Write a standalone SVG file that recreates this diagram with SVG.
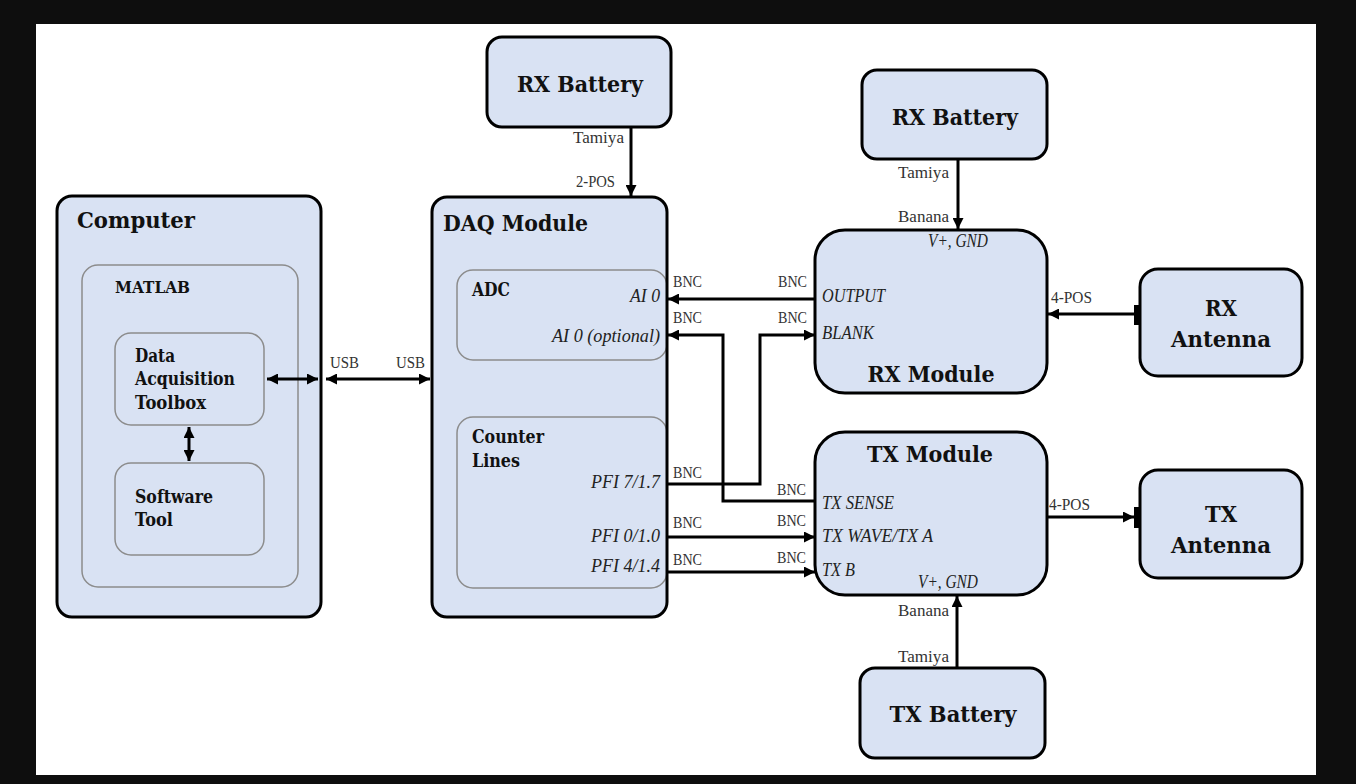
<svg xmlns="http://www.w3.org/2000/svg" width="1356" height="784" viewBox="0 0 1356 784">
  <defs>
    <style>
      .box { fill: #d9e2f3; stroke: #000; stroke-width: 3; }
      .boxfill { fill: #d9e2f3; stroke: none; }
      .boxedge { fill: none; stroke: #000; stroke-width: 3; }
      .inner { fill: #d9e2f3; stroke: #8c8c8c; stroke-width: 1.5; }
      .wire { fill: none; stroke: #000; stroke-width: 3; }
      .title { font-family: "DejaVu Serif", "Liberation Serif", serif; font-weight: bold; fill: #111; }
      .port { font-family: "Liberation Serif", "DejaVu Serif", serif; font-style: italic; font-size: 18px; fill: #222; }
      .lbl { font-family: "Liberation Serif", "DejaVu Serif", serif; font-size: 16px; fill: #333; }
    </style>
    <marker id="arrow" viewBox="0 0 10 10" refX="10" refY="5" markerWidth="11" markerHeight="11" markerUnits="userSpaceOnUse" orient="auto-start-reverse">
      <path d="M0,0 L10,5 L0,10 z" fill="#000"/>
    </marker>
  </defs>

  <!-- page frame -->
  <rect x="0" y="0" width="1356" height="784" fill="#0e0e0e"/>
  <rect x="36" y="24" width="1280" height="751" fill="#ffffff"/>

  <!-- Computer -->
  <g id="computer">
    <rect class="box" x="57" y="196" width="264" height="421" rx="15"/>
    <text class="title" x="77" y="228" font-size="22" textLength="118" lengthAdjust="spacingAndGlyphs">Computer</text>
    <g id="matlab">
      <rect class="inner" x="82" y="265" width="216" height="322" rx="16"/>
      <text class="title" x="115" y="293" font-size="17" textLength="75" lengthAdjust="spacingAndGlyphs">MATLAB</text>
    </g>
    <g id="daq-toolbox">
      <rect class="inner" x="115" y="333" width="149" height="92" rx="16"/>
      <text class="title" x="135" y="362" font-size="18" textLength="40" lengthAdjust="spacingAndGlyphs">Data</text>
      <text class="title" x="135" y="385" font-size="18" textLength="100" lengthAdjust="spacingAndGlyphs">Acquisition</text>
      <text class="title" x="135" y="409" font-size="18" textLength="71" lengthAdjust="spacingAndGlyphs">Toolbox</text>
    </g>
    <g id="software-tool">
      <rect class="inner" x="115" y="463" width="149" height="92" rx="16"/>
      <text class="title" x="135" y="503" font-size="18" textLength="78" lengthAdjust="spacingAndGlyphs">Software</text>
      <text class="title" x="135" y="526" font-size="18" textLength="38" lengthAdjust="spacingAndGlyphs">Tool</text>
    </g>
  </g>

  <!-- DAQ Module -->
  <g id="daq-module">
    <rect class="boxfill" x="432" y="197" width="235" height="420" rx="15"/>
    <g id="adc">
      <rect class="inner" x="457" y="270" width="210" height="90" rx="16"/>
      <text class="title" x="472" y="296" font-size="18" textLength="38" lengthAdjust="spacingAndGlyphs">ADC</text>
      <text class="port" x="660" y="302" text-anchor="end" textLength="30" lengthAdjust="spacingAndGlyphs">AI 0</text>
      <text class="port" x="660" y="342" text-anchor="end" textLength="108" lengthAdjust="spacingAndGlyphs">AI 0 (optional)</text>
    </g>
    <g id="counter-lines">
      <rect class="inner" x="457" y="417" width="210" height="171" rx="16"/>
      <text class="title" x="472" y="443" font-size="18" textLength="72" lengthAdjust="spacingAndGlyphs">Counter</text>
      <text class="title" x="472" y="467" font-size="18" textLength="48" lengthAdjust="spacingAndGlyphs">Lines</text>
      <text class="port" x="660" y="488" text-anchor="end" textLength="69" lengthAdjust="spacingAndGlyphs">PFI 7/1.7</text>
      <text class="port" x="660" y="542" text-anchor="end" textLength="69" lengthAdjust="spacingAndGlyphs">PFI 0/1.0</text>
      <text class="port" x="660" y="572" text-anchor="end" textLength="69" lengthAdjust="spacingAndGlyphs">PFI 4/1.4</text>
    </g>
    <rect class="boxedge" x="432" y="197" width="235" height="420" rx="15"/>
    <text class="title" x="443" y="231" font-size="22" textLength="145" lengthAdjust="spacingAndGlyphs">DAQ Module</text>
  </g>

  <!-- Batteries -->
  <g id="rx-battery-daq">
    <rect class="box" x="487" y="37" width="184" height="90" rx="15"/>
    <text class="title" x="580" y="92" font-size="23" text-anchor="middle" textLength="126" lengthAdjust="spacingAndGlyphs">RX Battery</text>
  </g>
  <g id="rx-battery-module">
    <rect class="box" x="862" y="70" width="185" height="89" rx="15"/>
    <text class="title" x="955" y="125" font-size="23" text-anchor="middle" textLength="126" lengthAdjust="spacingAndGlyphs">RX Battery</text>
  </g>
  <g id="tx-battery">
    <rect class="box" x="860" y="668" width="185" height="90" rx="15"/>
    <text class="title" x="953" y="722" font-size="23" text-anchor="middle" textLength="127" lengthAdjust="spacingAndGlyphs">TX Battery</text>
  </g>

  <!-- RX Module -->
  <g id="rx-module">
    <rect class="box" x="815" y="230" width="232" height="163" rx="30"/>
    <text class="port" x="928" y="247" textLength="60" lengthAdjust="spacingAndGlyphs">V+, GND</text>
    <text class="port" x="822" y="302" textLength="63" lengthAdjust="spacingAndGlyphs">OUTPUT</text>
    <text class="port" x="822" y="339" textLength="52" lengthAdjust="spacingAndGlyphs">BLANK</text>
    <text class="title" x="931" y="382" font-size="23" text-anchor="middle" textLength="127" lengthAdjust="spacingAndGlyphs">RX Module</text>
  </g>

  <!-- TX Module -->
  <g id="tx-module">
    <rect class="box" x="815" y="432" width="232" height="163" rx="30"/>
    <text class="title" x="930" y="462" font-size="23" text-anchor="middle" textLength="126" lengthAdjust="spacingAndGlyphs">TX Module</text>
    <text class="port" x="822" y="509" textLength="72" lengthAdjust="spacingAndGlyphs">TX SENSE</text>
    <text class="port" x="822" y="542" textLength="111" lengthAdjust="spacingAndGlyphs">TX WAVE/TX A</text>
    <text class="port" x="822" y="576" textLength="33" lengthAdjust="spacingAndGlyphs">TX B</text>
    <text class="port" x="918" y="588" textLength="60" lengthAdjust="spacingAndGlyphs">V+, GND</text>
  </g>

  <!-- Antennas -->
  <g id="rx-antenna">
    <rect class="box" x="1140" y="269" width="162" height="107" rx="18"/>
    <text class="title" x="1221" y="316" font-size="22" text-anchor="middle" textLength="32" lengthAdjust="spacingAndGlyphs">RX</text>
    <text class="title" x="1221" y="347" font-size="22" text-anchor="middle" textLength="100" lengthAdjust="spacingAndGlyphs">Antenna</text>
  </g>
  <g id="tx-antenna">
    <rect class="box" x="1140" y="470" width="162" height="108" rx="18"/>
    <text class="title" x="1221" y="522" font-size="22" text-anchor="middle" textLength="32" lengthAdjust="spacingAndGlyphs">TX</text>
    <text class="title" x="1221" y="553" font-size="22" text-anchor="middle" textLength="100" lengthAdjust="spacingAndGlyphs">Antenna</text>
  </g>

  <!-- Connectors -->
  <g id="connectors">
    <!-- inside the computer -->
    <line class="wire" x1="189" y1="427" x2="189" y2="461" marker-start="url(#arrow)" marker-end="url(#arrow)"/>
    <line class="wire" x1="267" y1="379" x2="318" y2="379" marker-start="url(#arrow)" marker-end="url(#arrow)"/>
    <!-- USB link -->
    <line class="wire" x1="326" y1="379" x2="430" y2="379" marker-start="url(#arrow)" marker-end="url(#arrow)"/>
    <!-- power -->
    <line class="wire" x1="631" y1="127" x2="631" y2="196" marker-end="url(#arrow)"/>
    <line class="wire" x1="958" y1="159" x2="958" y2="229" marker-end="url(#arrow)"/>
    <line class="wire" x1="957" y1="668" x2="957" y2="596" marker-end="url(#arrow)"/>
    <!-- BNC signals -->
    <line class="wire" x1="815" y1="299" x2="668" y2="299" marker-end="url(#arrow)"/>
    <polyline class="wire" points="815,501 723,501 723,335 668,335" marker-end="url(#arrow)"/>
    <polyline class="wire" points="668,484 760,484 760,335 815,335" marker-end="url(#arrow)"/>
    <line class="wire" x1="668" y1="537" x2="815" y2="537" marker-end="url(#arrow)"/>
    <line class="wire" x1="668" y1="572" x2="815" y2="572" marker-end="url(#arrow)"/>
    <!-- antenna links -->
    <line class="wire" x1="1134" y1="314" x2="1048" y2="314" marker-end="url(#arrow)"/>
    <rect x="1134" y="305" width="7" height="20" fill="#000"/>
    <line class="wire" x1="1047" y1="517" x2="1134" y2="517" marker-end="url(#arrow)"/>
    <rect x="1134" y="507" width="7" height="21" fill="#000"/>

    <!-- connector labels -->
    <text class="lbl" x="330" y="368" textLength="29" lengthAdjust="spacingAndGlyphs">USB</text>
    <text class="lbl" x="425" y="368" text-anchor="end" textLength="29" lengthAdjust="spacingAndGlyphs">USB</text>
    <text class="lbl" x="573" y="143" textLength="51" lengthAdjust="spacingAndGlyphs">Tamiya</text>
    <text class="lbl" x="615" y="187" text-anchor="end" textLength="39" lengthAdjust="spacingAndGlyphs">2-POS</text>
    <text class="lbl" x="898" y="178" textLength="51" lengthAdjust="spacingAndGlyphs">Tamiya</text>
    <text class="lbl" x="898" y="222" textLength="51" lengthAdjust="spacingAndGlyphs">Banana</text>
    <text class="lbl" x="898" y="616" textLength="51" lengthAdjust="spacingAndGlyphs">Banana</text>
    <text class="lbl" x="898" y="662" textLength="51" lengthAdjust="spacingAndGlyphs">Tamiya</text>
    <text class="lbl" x="1051" y="303" textLength="41" lengthAdjust="spacingAndGlyphs">4-POS</text>
    <text class="lbl" x="1049" y="510" textLength="41" lengthAdjust="spacingAndGlyphs">4-POS</text>
    <text class="lbl" x="673" y="287" textLength="29" lengthAdjust="spacingAndGlyphs">BNC</text>
    <text class="lbl" x="673" y="323" textLength="29" lengthAdjust="spacingAndGlyphs">BNC</text>
    <text class="lbl" x="673" y="478" textLength="29" lengthAdjust="spacingAndGlyphs">BNC</text>
    <text class="lbl" x="673" y="528" textLength="29" lengthAdjust="spacingAndGlyphs">BNC</text>
    <text class="lbl" x="673" y="565" textLength="29" lengthAdjust="spacingAndGlyphs">BNC</text>
    <text class="lbl" x="807" y="287" text-anchor="end" textLength="29" lengthAdjust="spacingAndGlyphs">BNC</text>
    <text class="lbl" x="807" y="323" text-anchor="end" textLength="29" lengthAdjust="spacingAndGlyphs">BNC</text>
    <text class="lbl" x="806" y="495" text-anchor="end" textLength="29" lengthAdjust="spacingAndGlyphs">BNC</text>
    <text class="lbl" x="806" y="526" text-anchor="end" textLength="29" lengthAdjust="spacingAndGlyphs">BNC</text>
    <text class="lbl" x="806" y="563" text-anchor="end" textLength="29" lengthAdjust="spacingAndGlyphs">BNC</text>
  </g>
</svg>
